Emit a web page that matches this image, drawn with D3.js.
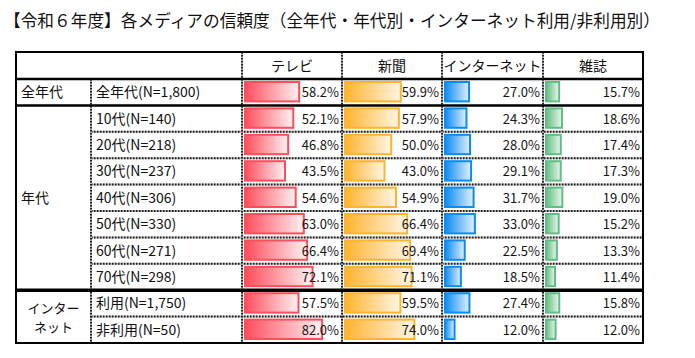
<!DOCTYPE html>
<html><head><meta charset="utf-8">
<script src="https://cdn.jsdelivr.net/npm/d3@7"></script>
<style>body{margin:0;background:#fff}svg{display:block}</style>
</head><body>
<svg id="c" width="695" height="358"></svg>
<script>
const title = "【令和６年度】各メディアの信頼度（全年代・年代別・インターネット利用/非利用別）";
const mediaNames = ["テレビ", "新聞", "インターネット", "雑誌"];
const rowLabels = ["全年代(N=1,800)", "10代(N=140)", "20代(N=218)", "30代(N=237)", "40代(N=306)", "50代(N=330)", "60代(N=271)", "70代(N=298)", "利用(N=1,750)", "非利用(N=50)"];
const tvValues = [58.2, 52.1, 46.8, 43.5, 54.6, 63.0, 66.4, 72.1, 57.5, 82.0];
const newspaperValues = [59.9, 57.9, 50.0, 43.0, 54.9, 66.4, 69.4, 71.1, 59.5, 74.0];
const internetValues = [27.0, 24.3, 28.0, 29.1, 31.7, 33.0, 22.5, 18.5, 27.4, 12.0];
const magazineValues = [15.7, 18.6, 17.4, 17.3, 19.0, 15.2, 13.3, 11.4, 15.8, 12.0];
const groupLabels = [["全年代"], ["年代"], ["インター", "ネット"]];
const groupRanges = [[0, 0], [1, 7], [8, 9]];

const series = [tvValues, newspaperValues, internetValues, magazineValues];
const colors = [
  {main: "#ff4d5c", light: "#fff2f3"},
  {main: "#ffb42e", light: "#fff6e6"},
  {main: "#0b8cf0", light: "#e2f0fd"},
  {main: "#62bd83", light: "#eaf6ee"}
];

const svg = d3.select("#c");
const font = "'Noto Sans CJK JP', 'Noto Sans', sans-serif";

const L = 16, R = 643, T = 52, HB = 79, B = 343;
const colX = [16, 91, 242, 342, 442, 543, 643];
const y = d3.scaleBand().domain(d3.range(rowLabels.length)).range([HB, B]).padding(0);
const x = d3.scaleLinear().domain([0, 100]).range([0, 96.5]);

// gradients
const defs = svg.append("defs");
colors.forEach((c, i) => {
  const g = defs.append("linearGradient").attr("id", "g" + i)
    .attr("x1", 0).attr("x2", 1).attr("y1", 0).attr("y2", 0);
  g.append("stop").attr("offset", "0%").attr("stop-color", c.main);
  g.append("stop").attr("offset", "100%").attr("stop-color", c.light);
});

// title
svg.append("text").attr("x", 4).attr("y", 27)
  .attr("font-family", font).attr("font-size", 17).attr("fill", "#111")
  .attr("textLength", 656).attr("lengthAdjust", "spacingAndGlyphs")
  .text(title);

// bars
series.forEach((vals, si) => {
  const cx = colX[2 + si];
  svg.append("g").selectAll("rect").data(vals).join("rect")
    .attr("x", cx + 3)
    .attr("y", (d, i) => y(i) + 3)
    .attr("width", d => Math.max(0, x(d) - 2))
    .attr("height", y.bandwidth() - 7)
    .attr("fill", `url(#g${si})`)
    .attr("stroke", colors[si].main)
    .attr("stroke-width", 2);
  svg.append("g").selectAll("text").data(vals).join("text")
    .attr("x", colX[3 + si] - 3)
    .attr("y", (d, i) => y(i) + y.bandwidth() / 2 + 5)
    .attr("text-anchor", "end")
    .attr("font-family", font).attr("font-size", 13).attr("fill", "#151515")
    .text(d => d.toFixed(1) + "%");
});

// header texts
svg.append("g").selectAll("text").data(mediaNames).join("text")
  .attr("x", (d, i) => (colX[2 + i] + colX[3 + i]) / 2)
  .attr("y", 71)
  .attr("text-anchor", "middle")
  .attr("font-family", font).attr("font-size", 14).attr("fill", "#111")
  .text(d => d);

// row labels
svg.append("g").selectAll("text").data(rowLabels).join("text")
  .attr("x", 96)
  .attr("y", (d, i) => y(i) + y.bandwidth() / 2 + 5)
  .attr("font-family", font).attr("font-size", 14).attr("fill", "#111")
  .text(d => d);

// group labels
groupLabels.forEach((lines, gi) => {
  const [a, b] = groupRanges[gi];
  const top = y(a), bot = y(b) + y.bandwidth();
  const mid = (top + bot) / 2;
  if (lines.length === 1) {
    svg.append("text").attr("x", 21).attr("y", mid + 5)
      .attr("font-family", font).attr("font-size", 14).attr("fill", "#111")
      .text(lines[0]);
  } else {
    lines.forEach((t, li) => {
      svg.append("text").attr("x", (colX[0] + colX[1]) / 2)
        .attr("y", mid - 4 + li * 19)
        .attr("text-anchor", "middle")
        .attr("font-family", font).attr("font-size", 13).attr("fill", "#111")
        .text(t);
    });
  }
});

// grid lines
const lines = svg.append("g");
function dotted(x1, y1, x2, y2) {
  lines.append("line").attr("x1", x1).attr("y1", y1).attr("x2", x2).attr("y2", y2)
    .attr("stroke", "#b0b0b0").attr("stroke-width", 2);
  lines.append("line").attr("x1", x1).attr("y1", y1).attr("x2", x2).attr("y2", y2)
    .attr("stroke", "#222").attr("stroke-width", 2).attr("stroke-dasharray", "1.5,1.5");
}
function solid(x1, y1, x2, y2, w) {
  lines.append("line").attr("x1", x1).attr("y1", y1).attr("x2", x2).attr("y2", y2)
    .attr("stroke", "#000").attr("stroke-width", w);
}
// horizontal dotted inside groups
for (let i = 0; i < rowLabels.length; i++) {
  const yy = y(i);
  if (i === 0 || i === 1 || i === 8) continue;
  dotted(colX[1], yy, R, yy);
}
// vertical dotted
dotted(colX[1], HB, colX[1], B);
for (let k = 2; k <= 5; k++) dotted(colX[k], T, colX[k], B);
// thick separators
solid(L, HB, R, HB, 2.5);
solid(L, y(1), R, y(1), 2.5);
solid(L, y(8), R, y(8), 3.5);
// outer border
lines.append("rect").attr("x", L).attr("y", T).attr("width", R - L).attr("height", B - T)
  .attr("fill", "none").attr("stroke", "#000").attr("stroke-width", 2);
</script>
</body></html>
